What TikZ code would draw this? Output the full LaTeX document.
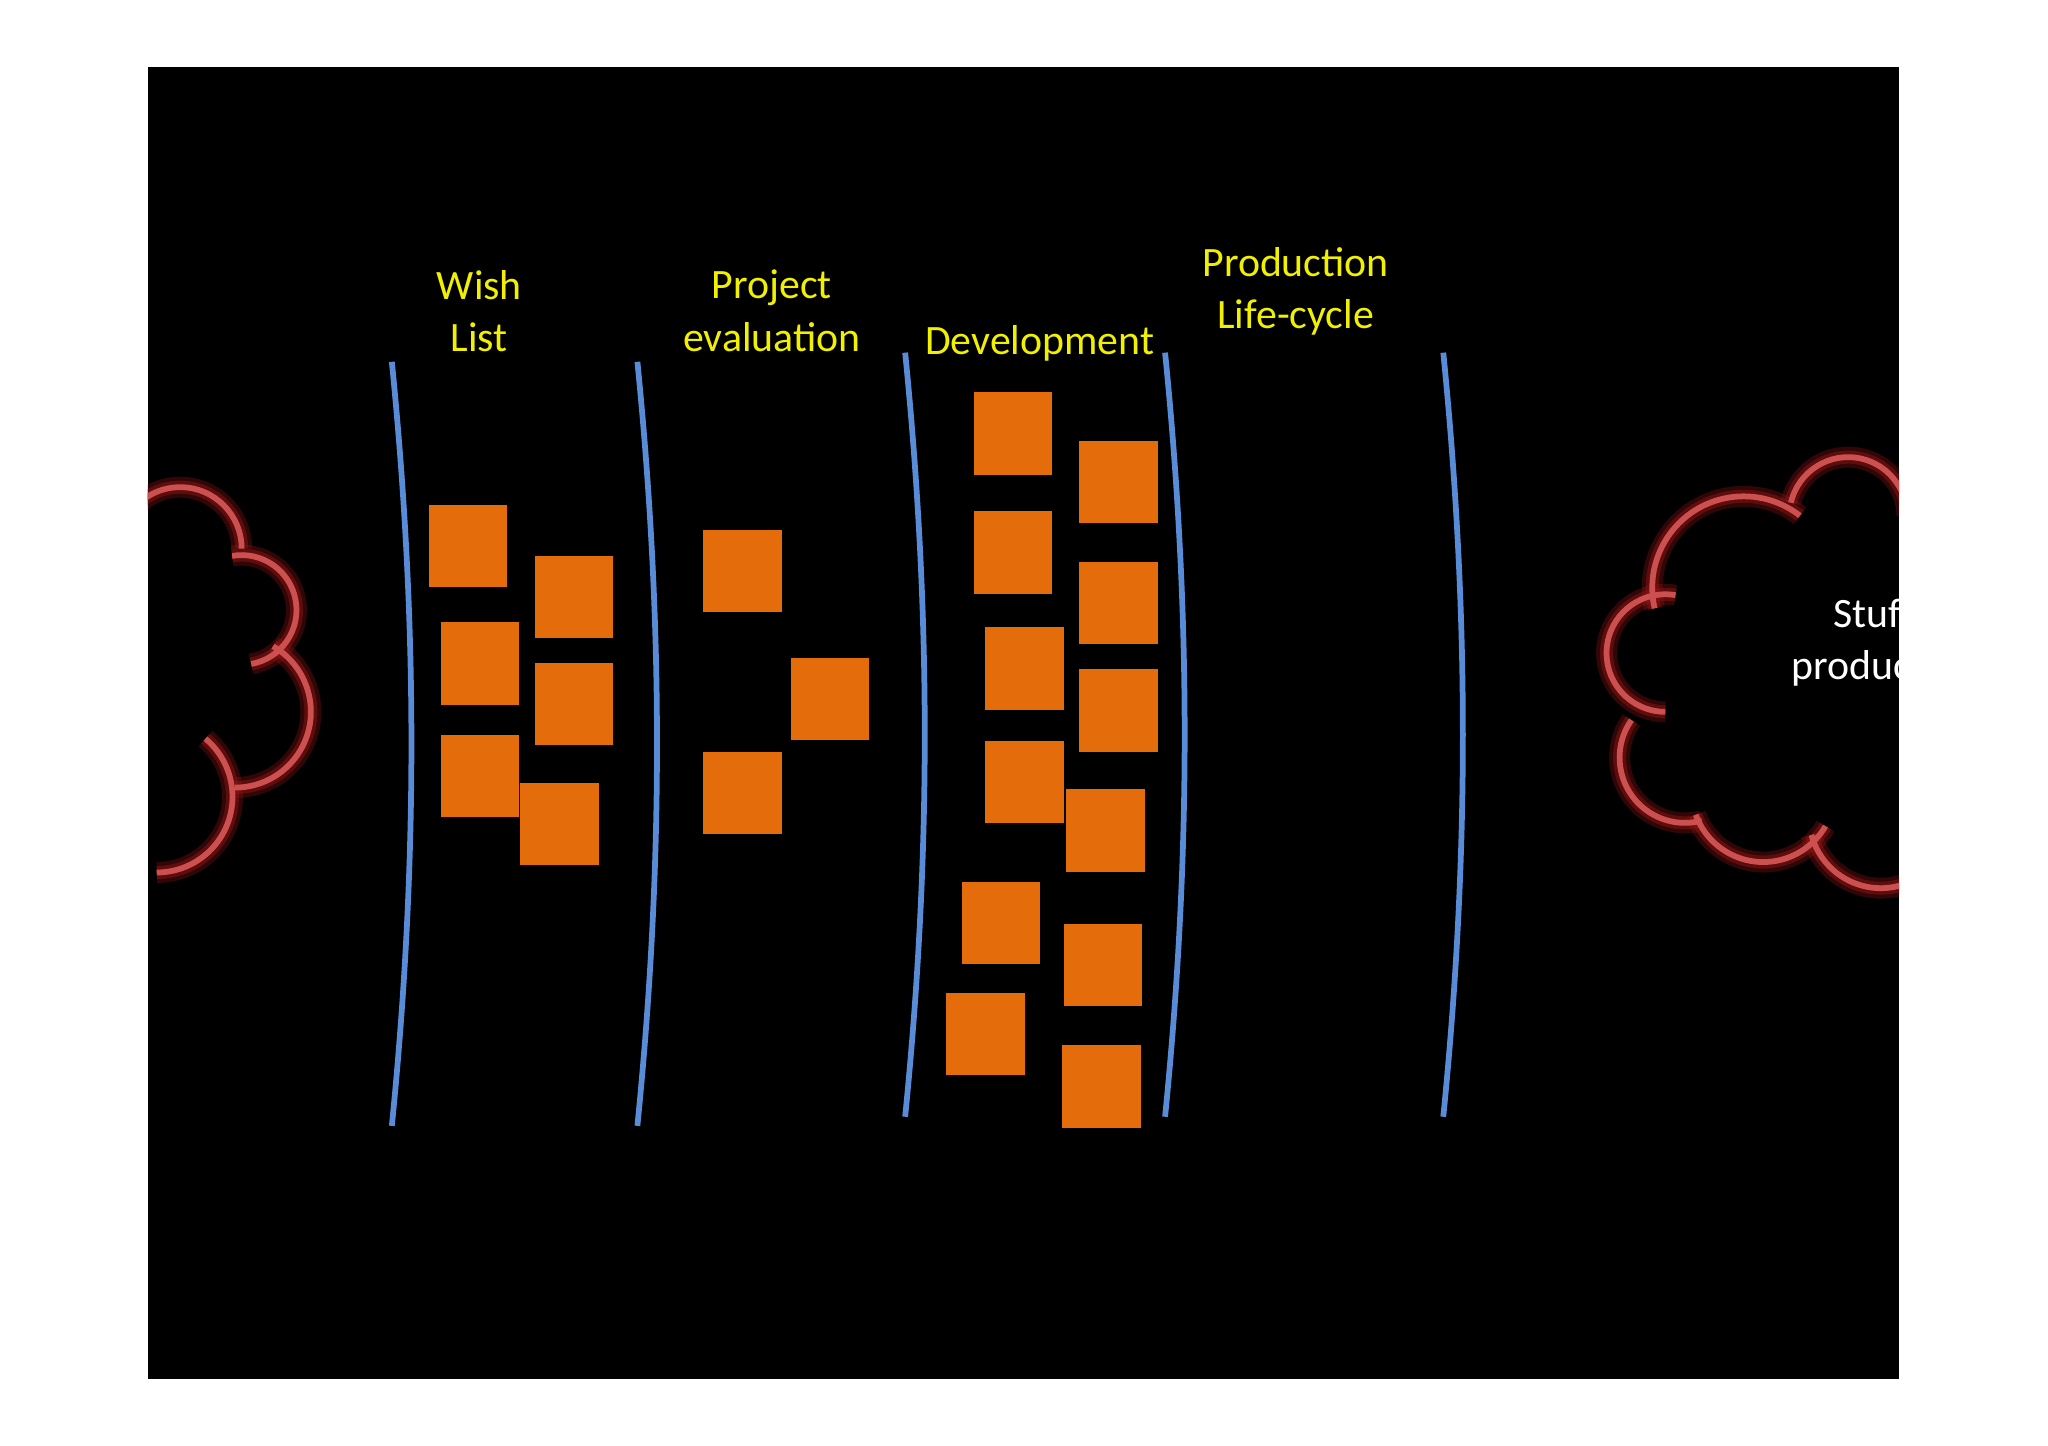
\documentclass[tikz,border=0pt]{standalone}
\usepackage{fontspec}
\setmainfont{Carlito}
\begin{document}
\begin{tikzpicture}[x=0.5pt,y=-0.5pt,
  lane/.style={draw=blueL,line width=2.2pt},
  card/.style={fill=orangeC,draw=none,minimum width=30pt,minimum height=31.5pt,inner sep=0pt,anchor=north west},
  lbl/.style={text=yellowT,font=\fontsize{16}{20}\selectfont,align=center},
  glowa/.style={draw=glowR,line width=8pt,opacity=0.35},
  glowb/.style={draw=glowR,line width=5pt,opacity=0.5},
  cl/.style={draw=cloudR,line width=2.2pt}]
\definecolor{blueL}{RGB}{88,140,214}
\definecolor{orangeC}{RGB}{228,108,10}
\definecolor{yellowT}{RGB}{240,240,0}
\definecolor{glowR}{RGB}{140,20,20}
\definecolor{cloudR}{RGB}{205,80,80}
\useasboundingbox (0,0) rectangle (1568,1107);
\fill[white] (0,0) rectangle (1568,1107);
\fill[black] (113,51) rectangle (1454,1056);
\begin{scope}
\clip (113,51) rectangle (1454,1056);
\foreach \s in {glowa,glowb,cl}{
 \draw[\s] (1335,450) ++(167:70) arc[start angle=167,end angle=308,radius=70];
 \draw[\s] (1415,395) ++(193:45) arc[start angle=193,end angle=360,radius=45];
 \draw[\s] (1275,500) ++(280:45) arc[start angle=280,end angle=90,radius=45];
 \draw[\s] (1290,580) ++(215:50) arc[start angle=215,end angle=75,radius=50];
 \draw[\s] (1350,605) ++(160:55) arc[start angle=160,end angle=30,radius=55];
 \draw[\s] (1440,625) ++(165:55) arc[start angle=165,end angle=60,radius=55];
 \draw[\s] (138,420) ++(180:47) arc[start angle=180,end angle=360,radius=47];
 \draw[\s] (185,467) ++(260:42) arc[start angle=260,end angle=440,radius=42];
 \draw[\s] (180,545) ++(300:58) arc[start angle=300,end angle=450,radius=58];
 \draw[\s] (120,610) ++(310:58) arc[start angle=310,end angle=450,radius=58];
}
\node[text=white,font=\fontsize{16}{20}\selectfont,align=center] (stuff) at (1434,492) {Stuff\\produced};
\end{scope}
\foreach \x/\t/\b in {300/277/862,488/277/862,693/270/855,892/270/855,1105/270/855}{
 \draw[lane] (\x,\t) .. controls (\x+20,\t+200) and (\x+20,\b-200) .. (\x,\b);
}
\foreach \n/\x/\y in {w1/328/386,w2/409/425,w3/337/476,w4/409/507,w5/337/562,w6/398/599,
 p1/538/405,p2/605/503,p3/538/575,
 d1/745/300,d2/826/337,d3/745/391,d4/826/430,d5/754/480,d6/826/512,d7/754/567,d8/816/604,d9/736/675,d10/814/707,d11/724/760,d12/813/800}{
 \node[card] (\n) at (\x,\y) {};
}
\node[lbl] (wish) at (367,238) {Wish\\List};
\node[lbl] (proj) at (591,238) {Project\\evaluation};
\node[lbl] (dev) at (796,263) {Development};
\node[lbl] (prod) at (992,223) {Production\\Life-cycle};
\end{tikzpicture}
\end{document}
